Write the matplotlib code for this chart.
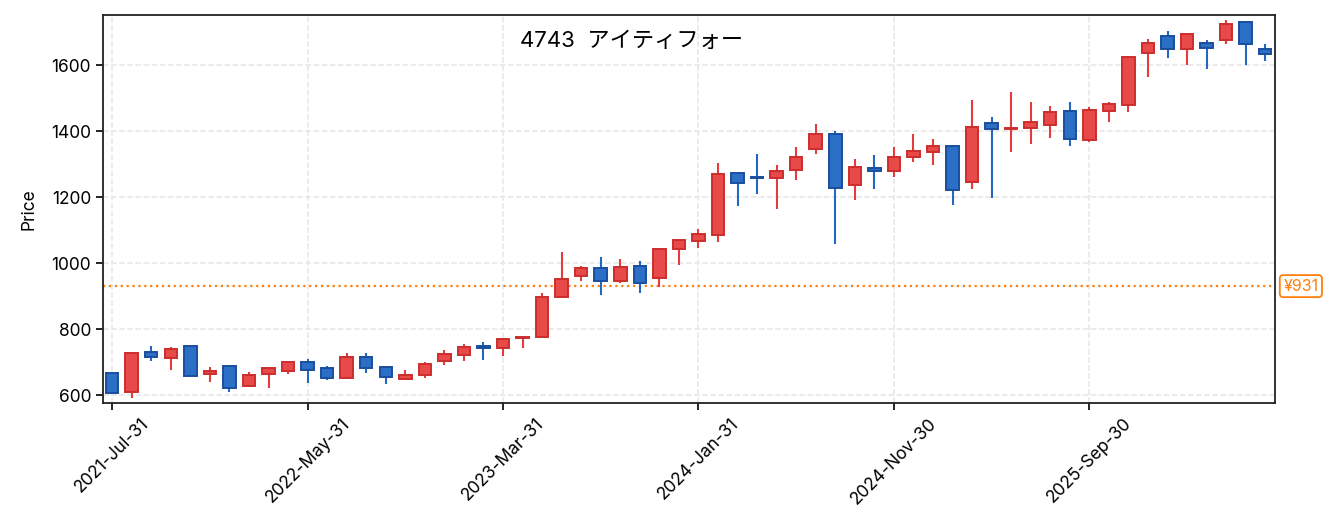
import matplotlib
matplotlib.use("Agg")
import matplotlib.pyplot as plt
import pandas as pd
from matplotlib.patches import Rectangle

plt.rcParams['font.family'] = ['Inter', 'Noto Sans CJK JP', 'DejaVu Sans']

dates = pd.date_range("2021-07-31", periods=60, freq="ME")
opens = [668, 609, 733, 712, 751, 664, 688, 628, 665, 674,
         700, 682, 654, 715, 685, 651, 661, 703, 721, 751,
         745, 774, 776, 898, 961, 985, 945, 991, 955, 1043,
         1067, 1086, 1273, 1261, 1258, 1282, 1346, 1391, 1236, 1290,
         1279, 1322, 1337, 1354, 1247, 1424, 1408, 1410, 1420, 1460,
         1373, 1462, 1480, 1637, 1688, 1648, 1667, 1676, 1730, 1648]
highs = [670, 731, 749, 746, 751, 686, 688, 671, 684, 700,
         710, 689, 728, 728, 685, 677, 701, 737, 755, 761,
         770, 776, 909, 1034, 991, 1019, 1013, 1007, 1042, 1070,
         1104, 1304, 1273, 1331, 1298, 1352, 1422, 1401, 1316, 1328,
         1352, 1392, 1377, 1358, 1495, 1443, 1519, 1489, 1477, 1489,
         1474, 1489, 1628, 1679, 1704, 1694, 1676, 1738, 1734, 1664]
lows = [605, 591, 705, 677, 658, 640, 610, 628, 623, 665,
        638, 647, 650, 668, 635, 647, 654, 693, 705, 708,
        720, 745, 776, 898, 947, 905, 941, 911, 929, 995,
        1047, 1065, 1175, 1211, 1165, 1253, 1332, 1059, 1193, 1226,
        1262, 1308, 1299, 1178, 1226, 1199, 1338, 1362, 1381, 1356,
        1367, 1429, 1459, 1565, 1623, 1602, 1587, 1665, 1602, 1614]
closes = [607, 727, 715, 740, 658, 673, 622, 661, 682, 700,
          676, 654, 715, 682, 655, 662, 694, 724, 748, 745,
          770, 776, 899, 954, 985, 946, 988, 939, 1042, 1070,
          1090, 1270, 1243, 1259, 1279, 1323, 1391, 1228, 1291, 1280,
          1323, 1339, 1354, 1222, 1414, 1407, 1411, 1429, 1458, 1376,
          1463, 1482, 1624, 1667, 1648, 1694, 1652, 1724, 1664, 1633]
ref_price = 931
title = "4743  アイティフォー"

fig = plt.figure(figsize=(13.39, 5.31), dpi=100)
ax = fig.add_axes([0.0769, 0.241, 0.8753, 0.7308])

up_face, up_edge = "#e84a4a", "#cc2e2e"
dn_face, dn_edge = "#2b70c6", "#1a4e9e"
width = 0.64
for i in range(len(dates)):
    o, h, l, c = opens[i], highs[i], lows[i], closes[i]
    up = c >= o
    face = up_face if up else dn_face
    edge = up_edge if up else dn_edge
    wick = "#e23c3c" if up else "#2268c2"
    ax.vlines(i, l, h, color=wick, linewidth=1.5, zorder=2)
    bottom = min(o, c)
    hgt = max(abs(c - o), 1.0)
    ax.add_patch(Rectangle((i - width / 2, bottom), width, hgt,
                           facecolor=face, edgecolor=edge, linewidth=1.4, zorder=3))

ax.axhline(ref_price, color="#ff7f0e", linestyle=":", linewidth=1.6, zorder=1)
ax.annotate(f"¥{ref_price}", xy=(1.0, ref_price), xycoords=("axes fraction", "data"),
            xytext=(6, 0), textcoords="offset points", ha="left", va="center",
            color="#ff7f0e", fontsize=11.5,
            bbox=dict(boxstyle="round,pad=0.22", facecolor="white", edgecolor="#ff7f0e", linewidth=1.3))

ax.set_xlim(-0.47, 59.5)
ax.set_ylim(577, 1752)
ticks = list(range(0, len(dates), 10))
ax.set_xticks(ticks)
ax.set_xticklabels([dates[t].strftime("%Y-%b-%d") for t in ticks], rotation=45, ha="center",
                   fontsize=12.5)
ax.set_yticks([600, 800, 1000, 1200, 1400, 1600])
ax.tick_params(axis="both", labelsize=12.5, length=5, width=1.2)
ax.set_ylabel("Price", fontsize=12.5, labelpad=10)
ax.grid(True, linestyle="--", color="#e6e6e6", linewidth=1.1, zorder=0)
ax.set_axisbelow(True)
for s in ax.spines.values():
    s.set_linewidth(1.3)
    s.set_color("#222222")
ax.text(0.451, 0.958, title, transform=ax.transAxes, ha="center", va="top", fontsize=16)

fig.savefig("out.png", dpi=100)
